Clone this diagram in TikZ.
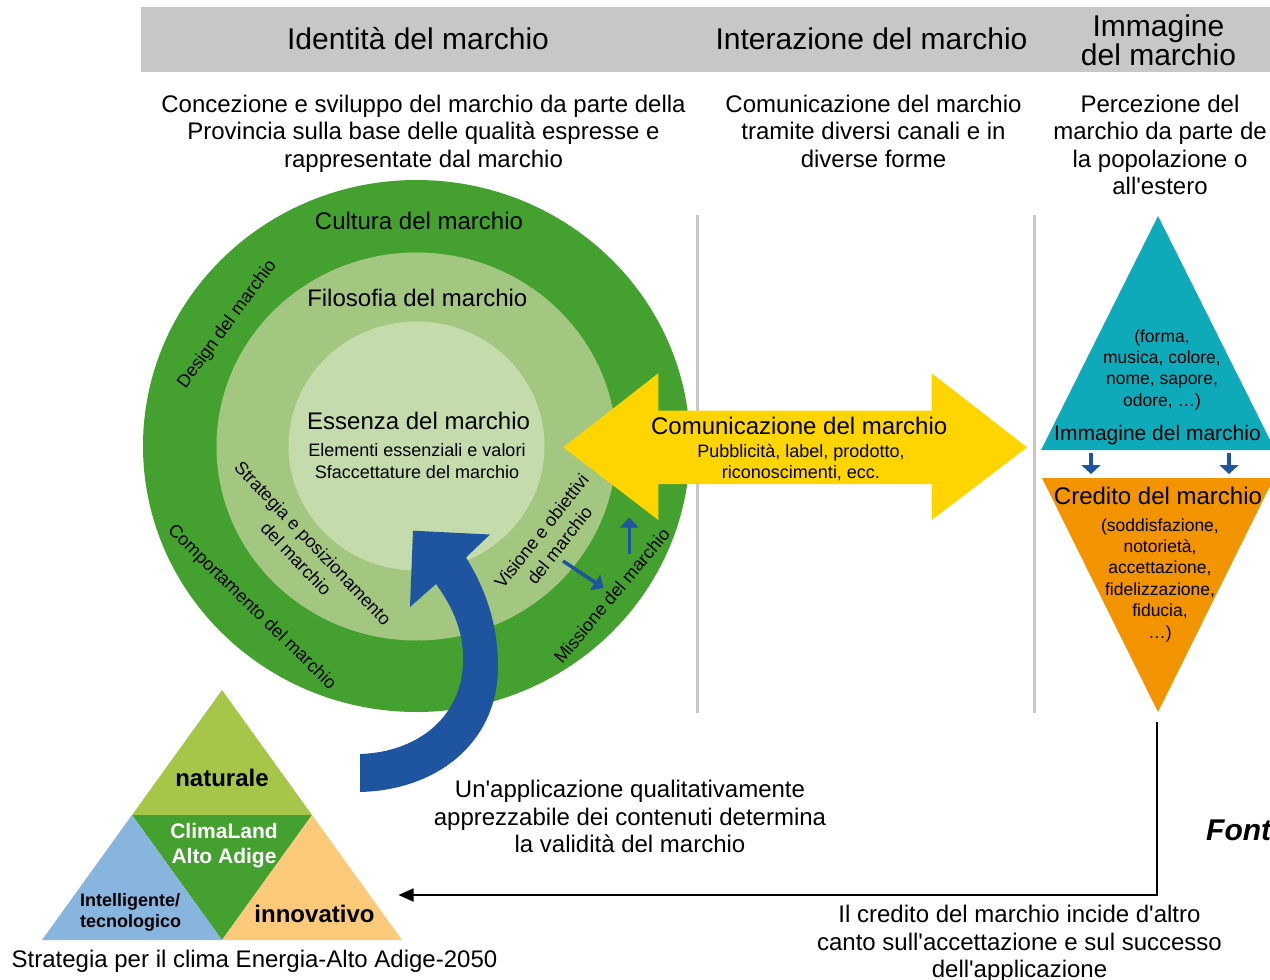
\documentclass[tikz,border=0pt]{standalone}
\usepackage{fontspec}
\setmainfont{Liberation Sans}[Ligatures=TeXOff]
\usetikzlibrary{arrows.meta}
\definecolor{hdrgray}{HTML}{C6C7C9}
\definecolor{ringdark}{HTML}{45A12F}
\definecolor{ringmid}{HTML}{A3C781}
\definecolor{ringin}{HTML}{C4DBAC}
\definecolor{yel}{HTML}{FFD500}
\definecolor{tealc}{HTML}{0FAAB9}
\definecolor{orng}{HTML}{F29300}
\definecolor{blu}{HTML}{1F54A0}
\definecolor{linegray}{HTML}{C8C8C8}
\definecolor{trigreen}{HTML}{A5C649}
\definecolor{triblue}{HTML}{88B5DD}
\definecolor{triorange}{HTML}{FAC979}
\newcommand\fsz[2]{\fontsize{#1}{#2}\selectfont}
\begin{document}
\begin{tikzpicture}[x=1pt, y=-1pt,
  every node/.style={inner sep=0pt, align=center, text=black},
  hdr/.style={font=\fsz{30}{27}},
  body/.style={font=\fsz{24}{27.5}},
  ringtxt/.style={font=\fsz{24}{28}},
  sm/.style={font=\fsz{18}{22}},
  rot/.style={font=\fsz{18}{23}},
  tri/.style={font=\fsz{17.5}{21.3}},
  boldtxt/.style={font=\bfseries\fsz{24}{28}},
  smallarrow/.style={draw=blu, line width=3.5pt, -{Triangle[width=18pt,length=10pt]}},
  tinyarrow/.style={draw=blu, line width=3.3pt, -{Triangle[width=19pt,length=9pt]}},
  sepline/.style={draw=linegray, line width=3pt}]
\useasboundingbox (0,0) rectangle (1270,980);

% header band
\fill[hdrgray] (141,6.5) rectangle (1270,71.5);
\node[hdr, anchor=base] (h1) at (418,49.5) {Identità del marchio};
\node[hdr, anchor=base] (h2) at (871.5,49.5) {Interazione del marchio};
\node[hdr] (h3) at (1158.5,40.5) {Immagine\\del marchio};

% column descriptions
\node[body] (d1) at (423.5,133.5) {Concezione e sviluppo del marchio da parte della\\Provincia sulla base delle qualità espresse e\\rappresentate dal marchio};
\node[body] (d2) at (873.5,131) {Comunicazione del marchio\\tramite diversi canali e in\\diverse forme};
\node[body] (d3) at (1160,145) {Percezione del\\marchio da parte de\\la popolazione o\\all'estero};

% separators
\draw[sepline] (697,215) -- (697,712.5);
\draw[sepline] (1034,215) -- (1034,712.5);

% rings
\fill[ringdark] (416.5,446) ellipse [x radius=273.5pt, y radius=266pt];
\fill[ringmid] (416.5,446.5) ellipse [x radius=200pt, y radius=194pt];
\fill[ringin] (416.5,446) ellipse [x radius=128pt, y radius=124.5pt];

\node[ringtxt, anchor=base] (cult) at (419,229) {Cultura del marchio};
\node[ringtxt, anchor=base] (filo) at (417.3,306.5) {Filosofia del marchio};
\node[ringtxt, anchor=base] (ess) at (418.6,429) {Essenza del marchio};
\node[sm] (esssub) at (417,461.5) {Elementi essenziali e valori\\Sfaccettature del marchio};

\node[rot, rotate=53.6] (design) at (227.5,324.5) {Design del marchio};
\node[rot, rotate=-44.3] (comport) at (251.6,607.6) {Comportamento del marchio};
\node[rot, rotate=50] (missione) at (611.7,595.8) {Missione del marchio};
\node[rot, rotate=-46.5] (strat) at (304.7,551) {Strategia e posizionamento\\del marchio};
\node[rot, rotate=51.6] (visione) at (550.4,538.3) {Visione e obiettivi\\del marchio};

% small arrows in the ring
\coordinate (va1) at (563,561);
\coordinate (va2) at (603.5,588);
\coordinate (vb1) at (629.3,553.5);
\coordinate (vb2) at (629.3,517.5);
\draw[smallarrow] (va1) -- (va2);
\draw[smallarrow] (vb1) -- (vb2);

% yellow double arrow
\fill[yel] (563.3,447.3) -- (658.3,373.3) -- (658.3,410.7) -- (931.7,410.7) -- (931.7,373.3)
  -- (1027,447.3) -- (931.7,520) -- (931.7,484) -- (658.3,484) -- (658.3,520) -- cycle;
\node[ringtxt, anchor=base] (com) at (799.2,434) {Comunicazione del marchio};
\node[sm, font=\fsz{18}{20.5}] (comsub) at (801,462.3) {Pubblicità, label, prodotto,\\riconoscimenti, ecc.};

% blue curved arrow
\fill[blu] (360,792) .. controls (440,790) and (498,740) .. (498,667)
  .. controls (498,620) and (483,585) .. (466,557.5)
  -- (490,534.5) -- (413,530.7) -- (410,607) -- (436,584)
  .. controls (455,610) and (464,635) .. (463,662)
  .. controls (462,715) and (420,752) .. (360,754) -- cycle;

% image triangle
\fill[tealc] (1158,216) -- (1041,450) -- (1275,450) -- cycle;
\node[tri] (imgsub) at (1162,369.8) {(forma,\\musica, colore,\\nome, sapore,\\odore, …)};
\node[font=\fsz{21}{24}, anchor=base] (img) at (1157.5,440.5) {Immagine del marchio};

\coordinate (ta1) at (1091,453);
\coordinate (ta2) at (1091,474);
\coordinate (tb1) at (1229,453);
\coordinate (tb2) at (1229,474);
\draw[tinyarrow] (ta1) -- (ta2);
\draw[tinyarrow] (tb1) -- (tb2);

% credit triangle
\fill[orng] (1042,478) -- (1274,478) -- (1158,712) -- cycle;
\node[ringtxt, anchor=base] (cred) at (1158,504) {Credito del marchio};
\node[tri, font=\fsz{17.5}{21.4}] (credsub) at (1160,580) {(soddisfazione,\\notorietà,\\accettazione,\\fidelizzazione,\\fiducia,\\…)};

% bottom texts
\node[body] (app) at (630,816.5) {Un'applicazione qualitativamente\\apprezzabile dei contenuti determina\\la validità del marchio};
\node[body] (credtxt) at (1019.5,944) {Il credito del marchio incide d'altro\\canto sull'accettazione e sul successo\\dell'applicazione};
\node[font=\bfseries\itshape\fsz{30}{32}, anchor=base west] (fonte) at (1206,840) {Font};

% ClimaLand triangle
\fill[trigreen] (222,690) -- (132,815) -- (312,815) -- cycle;
\fill[ringdark] (132,815) -- (312,815) -- (222,940) -- cycle;
\fill[triblue] (132,815) -- (42,940) -- (222,940) -- cycle;
\fill[triorange] (312,815) -- (222,940) -- (402,940) -- cycle;
\node[boldtxt, anchor=base] (nat) at (222,786.5) {naturale};
\node[font=\bfseries\fsz{21}{25}, text=white] (clima) at (224,845.5) {ClimaLand\\Alto Adige};
\node[font=\bfseries\fsz{18}{21.3}, align=left, anchor=west] (intel) at (80,912.5) {Intelligente/\\tecnologico};
\node[boldtxt, anchor=base] (innov) at (314.5,922.5) {innovativo};
\node[body, anchor=base] (strategia) at (254.5,967) {Strategia per il clima Energia-Alto Adige-2050};

% feedback arrow
\coordinate (fbstart) at (1157,722);
\coordinate (fbend) at (398.5,895);
\draw[line width=1.8pt, -{Triangle[width=13pt,length=15pt]}] (fbstart) |- (fbend);
\end{tikzpicture}
\end{document}
